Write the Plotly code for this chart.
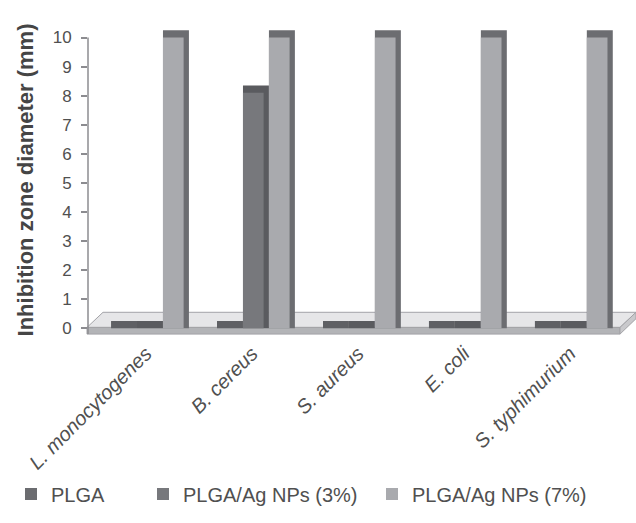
import plotly.graph_objects as go

# Inhibition zone diameters (mm) per bacterial strain
species = ["L. monocytogenes", "B. cereus", "S. aureus", "E. coli", "S. typhimurium"]
plga = [0, 0, 0, 0, 0]
plga_ag3 = [0, 8.1, 0, 0, 0]
plga_ag7 = [10, 10, 10, 10, 10]
y_ticks = list(range(0, 11))

series = [
    ("PLGA", plga, "#6b6c70", "#5f6064"),
    ("PLGA/Ag NPs (3%)", plga_ag3, "#77787c", "#5a5b5f"),
    ("PLGA/Ag NPs (7%)", plga_ag7, "#a9aaae", "#6c6d71"),
]
legend_ids = ["legend", "legend2", "legend3"]

BAR_W = 0.245      # width of one bar in category units
SIDE = 0.05        # darker right-hand side of each pseudo-3D bar
RISE = 0.25        # top face rise of each pseudo-3D bar
offsets = [-1.5 * BAR_W, -0.5 * BAR_W, 0.5 * BAR_W]
xpos = list(range(len(species)))

fig = go.Figure()

# depth (side + top face) of each bar, drawn first
for (name, vals, front, dark), off in zip(series, offsets):
    fig.add_trace(go.Bar(
        x=xpos, y=[v + RISE for v in vals], base=0,
        width=BAR_W, offset=off,
        marker=dict(color=dark, line=dict(width=0)),
        showlegend=False, hoverinfo="skip",
    ))

# front faces
for (name, vals, front, dark), off, lg in zip(series, offsets, legend_ids):
    fig.add_trace(go.Bar(
        x=xpos, y=vals, base=0, name=name, legend=lg,
        width=BAR_W - SIDE, offset=off,
        marker=dict(color=front, line=dict(width=0)),
    ))

# plot area geometry in pixels (for the floor decoration and legends)
L, R = 88, 630


def px(x):
    return (x - L) / (R - L)


def poly(pts):
    return "M " + " L ".join(f"{x},{y}" for x, y in pts) + " Z"


floor_top = [(px(103), 0.55), (px(636), 0.55), (px(620), 0.03), (px(87), 0.03)]
floor_front = [(px(87), 0.03), (px(620), 0.03), (px(620), -0.2), (px(87), -0.2)]
floor_side = [(px(620), 0.03), (px(636), 0.55), (px(636), 0.33), (px(620), -0.2)]

shapes = [
    dict(type="path", xref="paper", yref="y", path=poly(floor_top),
         fillcolor="#e6e6e8", line=dict(color="#a3a3a7", width=1), layer="below"),
    dict(type="path", xref="paper", yref="y", path=poly(floor_front),
         fillcolor="#b3b4b7", line=dict(color="#a3a3a7", width=1), layer="below"),
    dict(type="path", xref="paper", yref="y", path=poly(floor_side),
         fillcolor="#c9c9cc", line=dict(color="#a3a3a7", width=1), layer="below"),
    # vertical value axis
    dict(type="line", xref="paper", yref="y", x0=0, x1=0, y0=-0.2, y1=10,
         line=dict(color="#8c8c90", width=1.5)),
]

legend_style = dict(orientation="h", yanchor="middle", y=-0.5, xanchor="left",
                    font=dict(size=20, color="#505050"), itemwidth=30)
legend_x = [px(11), px(143), px(372)]

fig.update_layout(
    width=636, height=523, autosize=False,
    margin=dict(l=L, r=636 - R, t=23, b=186),
    plot_bgcolor="white", paper_bgcolor="white",
    barmode="overlay",
    shapes=shapes,
    font=dict(family="Liberation Sans, Arial, sans-serif", color="#505050"),
    xaxis=dict(
        range=[-0.585, 4.53],
        tickmode="array", tickvals=xpos,
        ticktext=[f"<i>{s}</i>" for s in species],
        tickangle=-45, tickfont=dict(size=20, color="#505050"),
        ticklabelshift=-4,
        showline=False, showgrid=False, zeroline=False, ticks="",
    ),
    yaxis=dict(
        range=[-0.3, 10.5],
        tickmode="array", tickvals=y_ticks,
        ticks="outside", ticklen=6, tickcolor="#8c8c90", tickwidth=1.5,
        tickfont=dict(size=17, color="#505050"),
        ticklabelstandoff=6,
        showline=False, showgrid=False, zeroline=False,
        title=dict(text="<b>Inhibition zone diameter (mm)</b>",
                   font=dict(size=22, color="#454545"), standoff=12),
    ),
    legend=dict(legend_style, x=legend_x[0]),
    legend2=dict(legend_style, x=legend_x[1]),
    legend3=dict(legend_style, x=legend_x[2]),
)

fig.write_html("out.html")
